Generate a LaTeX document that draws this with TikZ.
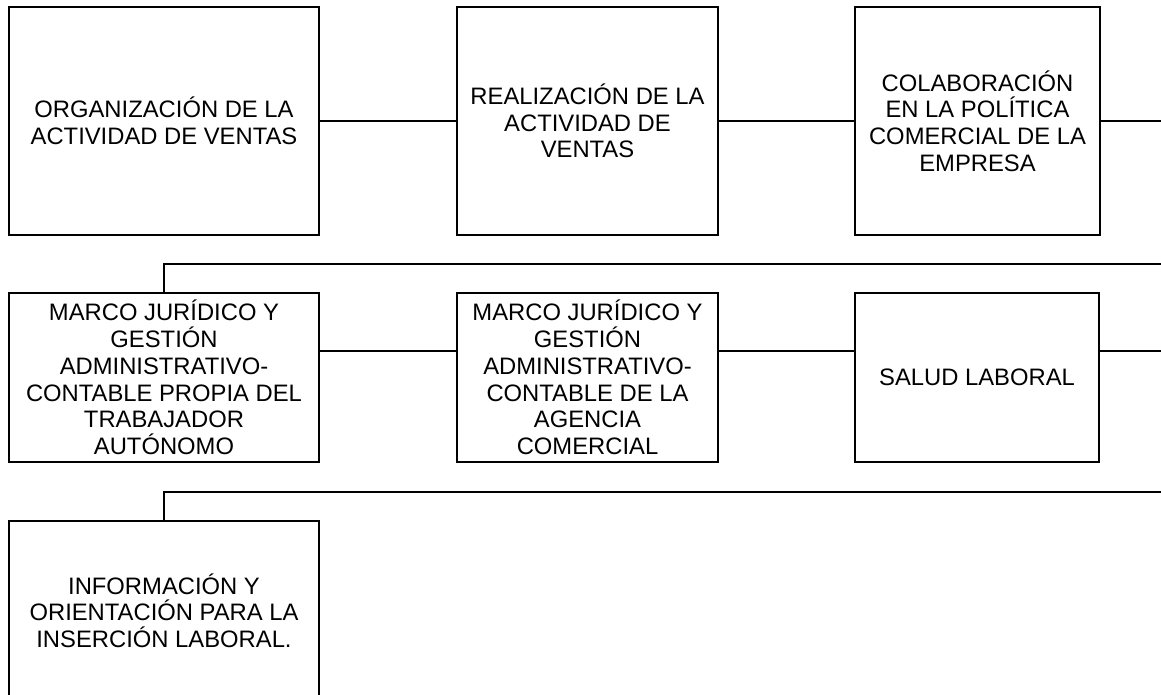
\documentclass[tikz,border=0pt]{standalone}
\usepackage{fontspec}
\setmainfont{Liberation Sans}
\begin{document}
\begin{tikzpicture}[x=1pt,y=-1pt,
  boxnode/.style={draw=black,line width=1.2pt,rectangle,inner sep=0pt,align=center,
    font=\fontsize{23.8}{26.7}\selectfont,text=black},
  link/.style={draw=black,line width=1.2pt}]
\useasboundingbox (0,0) rectangle (1161,694);
% row 1
\node[boxnode,minimum width=310pt,minimum height=228pt] (b1) at (164,121) {ORGANIZACIÓN DE LA\\ACTIVIDAD DE VENTAS};
\node[boxnode,minimum width=261pt,minimum height=228pt] (b2) at (587.5,121) {REALIZACIÓN DE LA\\ACTIVIDAD DE\\VENTAS};
\node[boxnode,minimum width=245pt,minimum height=228pt] (b3) at (977.5,121) {COLABORACIÓN\\EN LA POLÍTICA\\COMERCIAL DE LA\\EMPRESA};
% row 2
\node[boxnode,minimum width=310pt,minimum height=169pt] (b4) at (164,377.5) {MARCO JURÍDICO Y\\GESTIÓN\\ADMINISTRATIVO-\\CONTABLE PROPIA DEL\\TRABAJADOR\\AUTÓNOMO};
\node[boxnode,minimum width=261pt,minimum height=169pt] (b5) at (587.5,377.5) {MARCO JURÍDICO Y\\GESTIÓN\\ADMINISTRATIVO-\\CONTABLE DE LA\\AGENCIA\\COMERCIAL};
\node[boxnode,minimum width=244pt,minimum height=169pt] (b6) at (977,377.5) {SALUD LABORAL};
% row 3
\node[boxnode,minimum width=310pt,minimum height=179pt] (b7) at (164,610.5) {INFORMACIÓN Y\\ORIENTACIÓN PARA LA\\INSERCIÓN LABORAL.};
% free ends
\coordinate (e1) at (1161,121);
\coordinate (e2) at (1161,351);
\coordinate (r1) at (1161,264);
\coordinate (r2) at (1161,492);
% connectors
\draw[link] (b1.east) -- (b2.west);
\draw[link] (b2.east) -- (b3.west);
\draw[link] (b3.east) -- (e1);
\draw[link] (r1) -| (b4.north);
\draw[link] ([yshift=26.5pt]b4.east) -- ([yshift=26.5pt]b5.west);
\draw[link] ([yshift=26.5pt]b5.east) -- ([yshift=26.5pt]b6.west);
\draw[link] ([yshift=26.5pt]b6.east) -- (e2);
\draw[link] (r2) -| (b7.north);
\end{tikzpicture}
\end{document}
